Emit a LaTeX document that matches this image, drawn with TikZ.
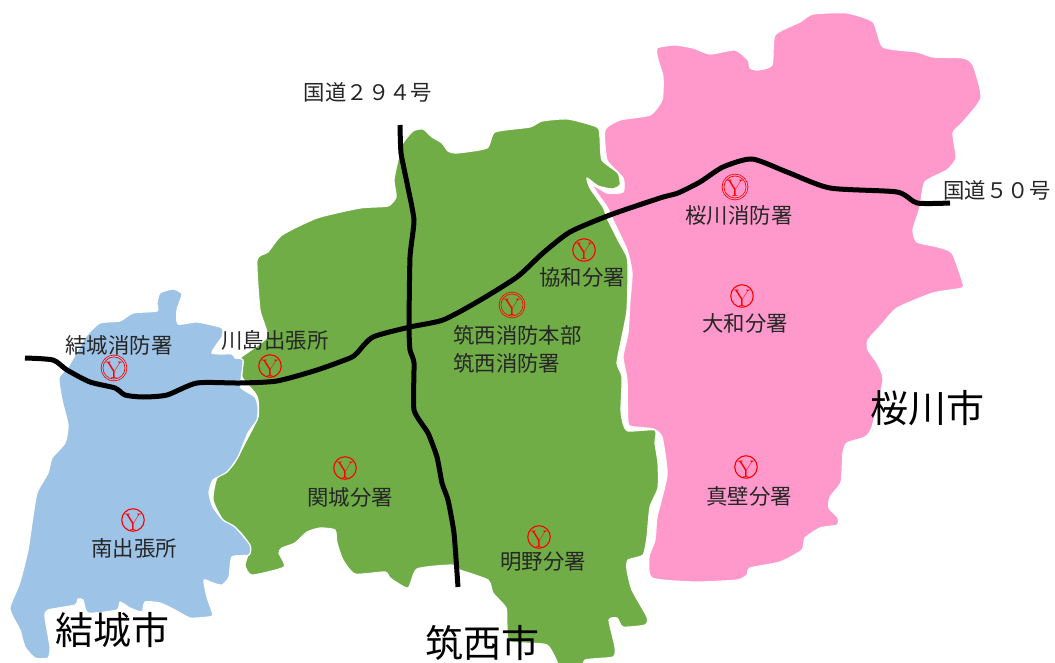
\documentclass[tikz,border=0pt]{standalone}
\usepackage{fontspec}
\newfontfamily\cjk{Noto Sans CJK JP}
\definecolor{cityblue}{HTML}{9DC3E6}
\definecolor{citygreen}{HTML}{70AD47}
\definecolor{citypink}{HTML}{FF99CC}
\newcommand{\stY}{\smash{\raisebox{-10pt}{Y}}}
\tikzset{
  city/.style={draw=white,line width=1.2pt,line join=round},
  road/.style={draw=black,line width=5pt,line join=round},
  lbl/.style={font=\cjk\fontsize{21.4}{24}\selectfont,text=black!85,inner sep=0pt},
  lblbig/.style={font=\cjk\fontsize{38}{42}\selectfont,text=black,inner sep=0pt},
  stn/.style={circle,draw=red,line width=1.1pt,minimum size=22.5pt,inner sep=0pt,text=red,
    font=\fontsize{24}{24}\selectfont},
  stnd/.style={circle,draw=red,line width=0.8pt,double=#1,double distance=1pt,minimum size=24pt,inner sep=0pt,text=red,
    font=\fontsize{24}{24}\selectfont},
}
\begin{document}
\begin{tikzpicture}[x=1pt,y=-1pt]
\useasboundingbox (0,0) rectangle (1055,663);
\begin{scope}
\clip (0,0) rectangle (1055,663);
% Sakuragawa
\fill[citypink,city] plot[smooth cycle,tension=0.35] coordinates {
(657,48)(675,45)(693,48)(710,54)(735,50)(748,60)(750,68)(758,70)(772,65)(775,35)(800,22)(813,14)(847,13)(873,22)(883,47)(917,52)(933,57)(963,58)(973,65)(981,98)(962,123)(953,133)(956,158)(947,170)(925,182)(920,207)(913,230)(917,242)(938,247)(952,253)(962,280)(962,288)(933,293)(897,308)(883,323)(868,340)(868,350)(877,363)(883,380)(872,427)(865,437)(847,443)(843,453)(841,482)(830,497)(829,508)(838,518)(837,525)(820,528)(805,538)(802,550)(780,562)(750,568)(747,575)(737,580)(695,582)(652,578)(649,557)(655,540)(657,517)(667,475)(662,437)(653,429)(635,427)(628,423)(627,380)(623,357)(628,333)(630,300)(632,273)(627,250)(613,220)(607,207)(597,193)(593,185)(607,193)(623,192)(623,178)(607,160)(605,130)(620,120)(650,115)(662,100)(663,77)(658,60)};
% Chikusei
\fill[citygreen,city] plot[smooth cycle,tension=0.35] coordinates {
(403,143)(413,131)(423,129)(432,137)(442,143)(448,151)(457,153)(487,148)(495,132)(530,127)(542,121)(568,119)(597,127)(600,137)(602,160)(618,173)(620,185)(612,189)(598,186)(587,178)(590,188)(603,207)(608,220)(618,240)(627,257)(628,273)(627,310)(622,337)(617,363)(622,377)(621,410)(623,423)(628,431)(655,430)(655,443)(658,463)(658,488)(650,507)(647,537)(643,555)(628,560)(627,570)(632,590)(647,617)(645,625)(623,627)(617,618)(609,620)(615,647)(613,657)(585,660)(583,670)(562,670)(547,645)(510,642)(507,627)(506,608)(493,593)(488,580)(460,570)(452,565)(417,569)(408,588)(390,578)(385,572)(355,574)(343,560)(337,543)(335,530)(320,528)(307,532)(295,543)(282,548)(279,553)(284,567)(252,575)(245,565)(250,547)(240,532)(223,520)(213,500)(217,478)(233,465)(245,443)(258,417)(258,400)(255,393)(242,377)(243,362)(240,358)(267,337)(260,310)(257,260)(268,252)(282,235)(317,218)(360,208)(388,206)(396,197)(394,180)(398,160)};
% Yuki
\fill[cityblue,city] plot[smooth cycle,tension=0.35] coordinates {
(157,303)(160,293)(173,289)(182,294)(177,310)(178,324)(197,322)(220,327)(223,330)(222,337)(212,353)(232,354)(235,358)(243,360)(241,380)(241,388)(255,397)(258,407)(257,420)(248,433)(238,457)(227,472)(213,480)(209,493)(213,507)(223,520)(235,527)(250,545)(249,555)(232,557)(229,577)(222,585)(213,583)(204,580)(207,597)(213,615)(208,617)(190,618)(175,610)(160,603)(145,602)(142,612)(130,608)(120,602)(117,610)(88,613)(83,600)(78,599)(75,605)(48,610)(45,617)(50,647)(48,658)(35,658)(25,647)(20,630)(13,617)(10,607)(20,582)(28,550)(32,523)(37,493)(48,473)(52,458)(65,443)(68,425)(62,400)(59,378)(68,367)(78,350)(87,335)(100,323)(120,321)(133,313)(157,311)};
\end{scope}
% Roads
\draw[road] plot[smooth,tension=0.4] coordinates {
(25,358)(53,360)(67,370)(90,382)(115,388)(125,395)(143,397)(167,395)(197,383)(240,383)(277,381)(317,370)(350,358)(357,353)(373,337)(410,327)(443,320)(477,302)(517,277)(543,253)(570,232)(610,215)(660,198)(678,193)(700,182)(723,167)(752,159)(787,172)(830,188)(897,192)(917,203)(950,203)};
\draw[road] plot[smooth,tension=0.3] coordinates {
(400,125)(401,153)(407,183)(414,220)(410,257)(409,327)(410,350)(414,363)(414,410)(428,433)(437,457)(442,483)(448,500)(454,533)(458,587)};
% Stations
\node[stnd=cityblue] (s1) at (114,368) {\stY};
\node[stn] (s2) at (270,366) {\stY};
\node[stn] (s3) at (345,468) {\stY};
\node[stn] (s4) at (133,520) {\stY};
\node[stnd=citygreen] (s5) at (512,305) {\stY};
\node[stn] (s6) at (584,250) {\stY};
\node[stnd=citypink] (s7) at (735,187) {\stY};
\node[stn] (s8) at (742,296) {\stY};
\node[stn] (s9) at (746,467) {\stY};
\node[stn] (s10) at (539,537) {\stY};
% Labels
\node[lbl] (t1) at (368,92) {国道２９４号};
\node[lbl] (t2) at (997,190) {国道５０号};
\node[lbl] (t3) at (119,345) {結城消防署};
\node[lbl] (t4) at (275,340) {川島出張所};
\node[lbl] (t5) at (134,548) {南出張所};
\node[lbl] (t6) at (350,497) {関城分署};
\node[lbl,anchor=west] (t7) at (453,335) {筑西消防本部};
\node[lbl,anchor=west] (t8) at (453,363) {筑西消防署};
\node[lbl] (t9) at (582,277) {協和分署};
\node[lbl] (t10) at (739,215) {桜川消防署};
\node[lbl] (t11) at (745,323) {大和分署};
\node[lbl] (t12) at (749,496) {真壁分署};
\node[lbl] (t13) at (543,562) {明野分署};
\node[lblbig] (c1) at (112,630) {結城市};
\node[lblbig] (c2) at (482,643) {筑西市};
\node[lblbig] (c3) at (927,408) {桜川市};
\end{tikzpicture}
\end{document}
